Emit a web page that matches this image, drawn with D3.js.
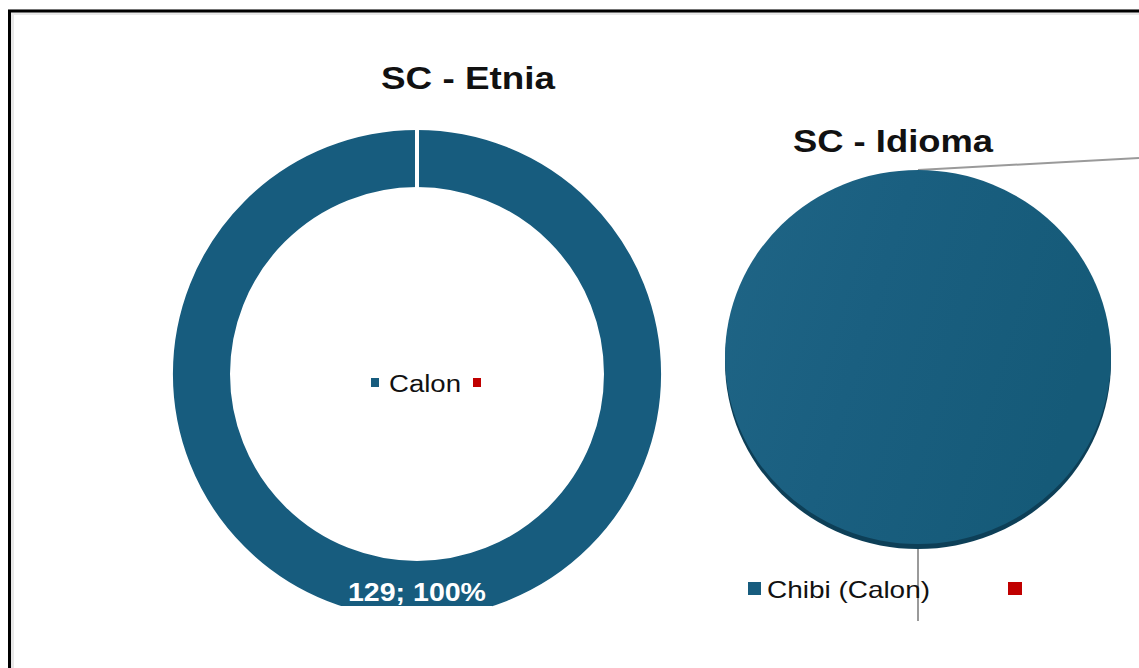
<!DOCTYPE html>
<html><head><meta charset="utf-8">
<script src="https://cdn.jsdelivr.net/npm/d3@7"></script>
<style>html,body{margin:0;padding:0;background:#fff;}svg{display:block;font-family:"Liberation Sans",Arial,sans-serif;}</style>
</head><body>
<svg id="c" width="1139" height="668"></svg>
<script>
const etniaCategories = ["Calon", ""];
const etniaValues = [129, 0];
const etniaLabel = "129; 100%";
const idiomaCategories = ["Chibi (Calon)", ""];
const idiomaValues = [129, 0];
const titles = ["SC - Etnia", "SC - Idioma"];
const colors = ["#175c7e", "#c00000"];

const svg = d3.select("#c");
const defs = svg.append("defs");
const g1 = defs.append("linearGradient").attr("id","pg").attr("x1","0").attr("y1","0").attr("x2","1").attr("y2","0.3");
g1.append("stop").attr("offset","0").attr("stop-color","#1f6586");
g1.append("stop").attr("offset","0.45").attr("stop-color","#1a5f80");
g1.append("stop").attr("offset","1").attr("stop-color","#155a78");

function txt(x, y, s, size, len, opts = {}) {
  const t = svg.append("text").attr("x", x).attr("y", y).attr("font-size", size)
    .attr("fill", opts.fill || "#111").attr("font-weight", opts.bold ? "bold" : "normal")
    .attr("text-anchor", opts.anchor || "start").text(s);
  if (len) t.attr("textLength", len).attr("lengthAdjust", "spacingAndGlyphs");
  return t;
}

// frame
svg.append("rect").attr("x",11).attr("y",12).attr("width",1200).attr("height",700)
  .attr("fill","none").attr("stroke","#e8e8e8").attr("stroke-width",6);
svg.append("rect").attr("x",9.5).attr("y",11).attr("width",1200).attr("height",700)
  .attr("fill","none").attr("stroke","#000").attr("stroke-width",3);

const pie = d3.pie().sort(null).value(d => d);

// ---- Donut: Etnia
const c1 = {x: 417, y: 374};
const arc1 = d3.arc().innerRadius(185).outerRadius(246);
const gd = svg.append("g").attr("transform",`translate(${c1.x},${c1.y})`);
gd.selectAll("path").data(pie(etniaValues)).join("path")
  .attr("d", arc1).attr("fill",(d,i)=>colors[i])
  .attr("stroke","#fff").attr("stroke-width",4).attr("stroke-linejoin","miter");
svg.append("rect").attr("x",341).attr("y",606).attr("width",151).attr("height",20).attr("fill","#fff");
txt(348, 601, etniaLabel, 25, 138, {fill:"#fff", bold:true});
txt(381, 89, titles[0], 32, 174, {bold:true});
// legend inside
svg.append("rect").attr("x",371).attr("y",378).attr("width",8).attr("height",9).attr("fill",colors[0]);
txt(389, 392, etniaCategories[0], 23, 72);
svg.append("rect").attr("x",473).attr("y",378).attr("width",8).attr("height",9).attr("fill",colors[1]);

// ---- Pie: Idioma
const c2 = {x: 918, y: 357};
const rx = 193, ry = 187, depth = 5;
svg.append("line").attr("x1",918).attr("y1",170).attr("x2",1139).attr("y2",158)
  .attr("stroke","#9a9a9a").attr("stroke-width",2);
svg.append("line").attr("x1",918).attr("y1",545).attr("x2",918).attr("y2",621)
  .attr("stroke","#9a9a9a").attr("stroke-width",2);
const arc2 = d3.arc().innerRadius(0).outerRadius(rx);
const gp = svg.append("g").attr("transform",`translate(${c2.x},${c2.y})`);
gp.append("g").attr("transform",`translate(0,${depth}) scale(1,${ry/rx})`)
  .selectAll("path").data(pie(idiomaValues)).join("path")
  .attr("d", arc2).attr("fill",(d,i)=> i===0 ? "#0d3f57" : colors[1]);
gp.append("g").attr("transform",`scale(1,${ry/rx})`)
  .selectAll("path").data(pie(idiomaValues)).join("path")
  .attr("d", arc2).attr("fill",(d,i)=> i===0 ? "url(#pg)" : colors[1]);
txt(793, 152, titles[1], 32, 200, {bold:true});
svg.append("rect").attr("x",748).attr("y",582).attr("width",13).attr("height",13).attr("fill",colors[0]);
txt(767, 598, idiomaCategories[0], 24, 163);
svg.append("rect").attr("x",1008).attr("y",582).attr("width",14).attr("height",13).attr("fill",colors[1]);
</script>
</body></html>
